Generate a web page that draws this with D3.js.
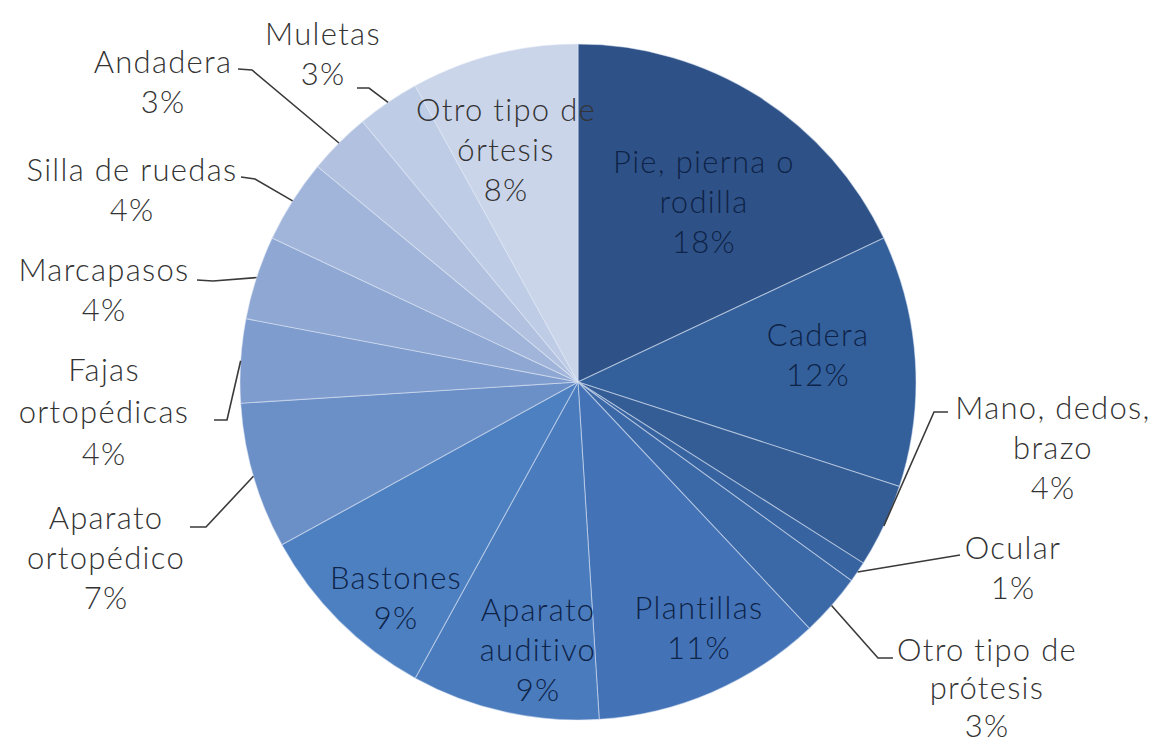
<!DOCTYPE html>
<html lang="es">
<head>
<meta charset="utf-8">
<script src="https://cdn.jsdelivr.net/npm/d3@7"></script>
<style>
  html, body { margin: 0; padding: 0; background: #ffffff; }
  svg { display: block; }
  text { font-family: Lato, "Open Sans", sans-serif; font-weight: 300; }
</style>
</head>
<body>
<svg id="chart" width="1159" height="745"></svg>
<script>
// Categories, clockwise from 12 o'clock
const categories = [
  "Pie, pierna o rodilla", "Cadera", "Mano, dedos, brazo", "Ocular",
  "Otro tipo de prótesis", "Plantillas", "Aparato auditivo", "Bastones",
  "Aparato ortopédico", "Fajas ortopédicas", "Marcapasos", "Silla de ruedas",
  "Andadera", "Muletas", "Otro tipo de órtesis"
];
// Share of each category (%)
const values = [18, 12, 4, 1, 3, 11, 9, 9, 7, 4, 4, 4, 3, 3, 8];
// Label lines as they wrap on the chart
const labelLines = [
  ["Pie, pierna o", "rodilla"], ["Cadera"], ["Mano, dedos,", "brazo"], ["Ocular"],
  ["Otro tipo de", "prótesis"], ["Plantillas"], ["Aparato", "auditivo"], ["Bastones"],
  ["Aparato", "ortopédico"], ["Fajas", "ortopédicas"], ["Marcapasos"], ["Silla de ruedas"],
  ["Andadera"], ["Muletas"], ["Otro tipo de", "órtesis"]
];
// Slice fills, dark to light
const colors = [
  "#2e5287", "#33609b", "#345d96", "#3763a0", "#3b68a7", "#4373b6", "#4a7bbd", "#4d80c1",
  "#6b8fc7", "#7e9ccd", "#8fa8d3", "#a1b5da", "#b1c1df", "#becce5", "#cbd5ea"
];

const svg = d3.select("#chart");
const cx = 578, cy = 382, R = 338;
const g = svg.append("g").attr("transform", `translate(${cx},${cy})`);

const pie = d3.pie().sort(null).value(d => d.value);
const data = categories.map((c, i) => ({ name: c, value: values[i], lines: labelLines[i], color: colors[i] }));
const arcs = pie(data);
const arc = d3.arc().innerRadius(0).outerRadius(R);

g.selectAll("path.slice")
  .data(arcs)
  .join("path")
  .attr("class", "slice")
  .attr("d", arc)
  .attr("fill", d => d.data.color)
  .attr("stroke", "rgba(225,234,247,0.5)")
  .attr("stroke-width", 1.1);

// Label placement: text centre (x, y) on the page, whether it sits inside
// the slice, line spacing, and the elbow/end of any leader line.
const layout = {
  "Pie, pierna o rodilla": { x: 703, y: 162, inside: true },
  "Cadera": { x: 817, y: 335, inside: true },
  "Mano, dedos, brazo": { x: 1052, y: 408, leader: [[948, 412], [934, 412]] },
  "Ocular": { x: 1012, y: 548, leader: [[960, 555]] },
  "Otro tipo de prótesis": { x: 986, y: 650, step: 38, leader: [[893, 658], [878, 658]] },
  "Plantillas": { x: 698, y: 608, inside: true },
  "Aparato auditivo": { x: 537, y: 610, inside: true },
  "Bastones": { x: 395, y: 578, inside: true },
  "Aparato ortopédico": { x: 105, y: 518, leader: [[190, 527], [206, 527]] },
  "Fajas ortopédicas": { x: 103, y: 370, step: 42, leader: [[214, 420], [227, 420]] },
  "Marcapasos": { x: 103, y: 270, leader: [[197, 280], [213, 281]] },
  "Silla de ruedas": { x: 131, y: 170, leader: [[241, 177], [255, 179]] },
  "Andadera": { x: 162, y: 62, leader: [[238, 69], [252, 70]] },
  "Muletas": { x: 322, y: 34, leader: [[357, 88], [369, 88]] },
  "Otro tipo de órtesis": { x: 505, y: 110, inside: true }
};

const lineH = 40;
const fontSize = 31;

// Leader lines from the slice edge to the label
const leaderGen = d3.line();
arcs.forEach(a => {
  const L = layout[a.data.name];
  if (!L || !L.leader) return;
  const mid = (a.startAngle + a.endAngle) / 2;
  const edge = [cx + R * Math.sin(mid), cy - R * Math.cos(mid)];
  const pts = [edge, ...L.leader.slice().reverse()];
  svg.append("path")
    .attr("d", leaderGen(pts))
    .attr("fill", "none")
    .attr("stroke", "#3a3a3a")
    .attr("stroke-width", 1.6);
});

// Text labels: category lines followed by the percentage
arcs.forEach(a => {
  const L = layout[a.data.name];
  const lines = [...a.data.lines, a.data.value + "%"];
  const darkSlice = L.inside && a.index < 14;
  const step = L.step || lineH;
  const t = svg.append("text")
    .attr("text-anchor", "middle")
    .attr("font-size", fontSize)
    .attr("letter-spacing", 1.3)
    .attr("fill", darkSlice ? "#0e2348" : "#333333");
  lines.forEach((s, k) => {
    t.append("tspan")
      .attr("x", L.x + 1)
      .attr("y", L.y + k * step)
      .attr("dy", "0.35em")
      .text(s);
  });
});
</script>
</body>
</html>
